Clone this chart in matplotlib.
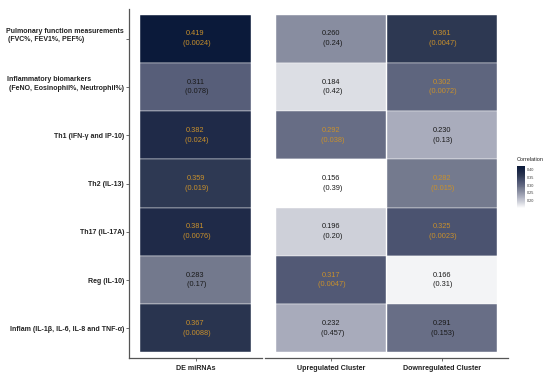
import numpy as np
import matplotlib
matplotlib.use('Agg')
import matplotlib.pyplot as plt
from matplotlib.colors import LinearSegmentedColormap, Normalize
from matplotlib.transforms import ScaledTranslation

plt.rcParams['font.family'] = ['Liberation Sans', 'DejaVu Sans']

rows = ['Pulmonary function measurements\n (FVC%, FEV1%, PEF%)',
        'Inflammatory biomarkers\n (FeNO, Eosinophil%, Neutrophil%)',
        'Th1 (IFN-γ and IP-10)',
        'Th2 (IL-13)',
        'Th17 (IL-17A)',
        'Reg (IL-10)',
        'Inflam (IL-1β, IL-6, IL-8 and TNF-α)']

de_r = [0.419, 0.311, 0.382, 0.359, 0.381, 0.283, 0.367]
de_p = ['0.0024', '0.078', '0.024', '0.019', '0.0076', '0.17', '0.0088']
de_sig = [1, 0, 1, 1, 1, 0, 1]

up_r = [0.260, 0.184, 0.292, 0.156, 0.196, 0.317, 0.232]
up_p = ['0.24', '0.42', '0.038', '0.39', '0.20', '0.0047', '0.457']
up_sig = [0, 0, 1, 0, 0, 1, 0]

down_r = [0.361, 0.302, 0.230, 0.282, 0.325, 0.166, 0.291]
down_p = ['0.0047', '0.0072', '0.13', '0.015', '0.0023', '0.31', '0.153']
down_sig = [1, 1, 0, 1, 1, 0, 0]

left_cols = ['DE miRNAs']
right_cols = ['Upregulated Cluster', 'Downregulated Cluster']

allv = de_r + up_r + down_r
vmin, vmax = min(allv), max(allv)
norm = Normalize(vmin, vmax)

# slate-blue gradient, anchors picked by eye from the reference
stops = [(0.156, '#ffffff'), (0.196, '#cdcfd8'), (0.230, '#a9acbc'), (0.260, '#888da0'),
         (0.282, '#747a8e'), (0.292, '#676d85'), (0.325, '#4b5370'), (0.359, '#2e3953'),
         (0.382, '#1f2a48'), (0.419, '#0b1a3a')]
cmap = LinearSegmentedColormap.from_list(
    'corr', [((v - vmin) / (vmax - vmin), c) for v, c in stops])

sig_col = '#c8902c'
txt_col = '#1a1a1a'

fig = plt.figure(figsize=(5.5, 3.76), dpi=100)
W, H = 550, 376
ax1 = fig.add_axes([129 / W, 1 - 358 / H, 133 / W, 349 / H])
ax2 = fig.add_axes([265 / W, 1 - 358 / H, 243 / W, 349 / H])


def draw(ax, cols, rs, ps, sigs):
    n = len(rows)
    for j in range(len(cols)):
        for i in range(n):
            y = n - 1 - i
            ax.add_patch(plt.Rectangle((j - 0.5, y - 0.5), 1, 1, facecolor=cmap(norm(rs[j][i])),
                                       edgecolor='white', linewidth=0.3))
            ax.text(j, y, f'{rs[j][i]:.3f}\n ({ps[j][i]})', ha='center', va='center',
                    fontsize=5.3, linespacing=1.55, color=sig_col if sigs[j][i] else txt_col)
    ax.set_xlim(-0.6, len(cols) - 0.4)
    ax.set_ylim(-0.615, n - 0.385)
    ax.set_xticks(range(len(cols)))
    ax.set_xticklabels(cols, fontsize=5.1, fontweight='bold', color='#222222')
    ax.tick_params(axis='x', length=2, width=0.6, color='#555555', pad=3)
    for s in ['top', 'right']:
        ax.spines[s].set_visible(False)
    ax.spines['bottom'].set_color('#555555')
    ax.spines['bottom'].set_linewidth(0.9)


draw(ax1, left_cols, [de_r], [de_p], [de_sig])
draw(ax2, right_cols, [up_r, down_r], [up_p, down_p], [up_sig, down_sig])

ax1.spines['left'].set_color('#555555')
ax1.spines['left'].set_linewidth(0.9)
ax1.set_yticks(range(len(rows))[::-1])
ax1.set_yticklabels(rows, fontsize=5.0, fontweight='bold', color='#222222',
                    multialignment='left', linespacing=1.25)
ax1.tick_params(axis='y', length=2, width=0.6, color='#555555', pad=1.5)
for lab in ax1.get_yticklabels():
    if '\n' in lab.get_text():
        lab.set_transform(lab.get_transform() + ScaledTranslation(0, 4.5 / 100, fig.dpi_scale_trans))

ax2.spines['left'].set_visible(False)
ax2.set_yticks([])

cax = fig.add_axes([517 / W, 1 - 208 / H, 8 / W, 42 / H])
cb = fig.colorbar(matplotlib.cm.ScalarMappable(norm=norm, cmap=cmap), cax=cax)
cb.outline.set_visible(False)
cb.set_ticks([0.20, 0.25, 0.30, 0.35, 0.40])
cb.ax.tick_params(labelsize=2.7, length=0, pad=1.5, labelcolor='#333333')
fig.text(517 / W, 1 - 160 / H, 'Correlation', fontsize=4, va='center', ha='left', color='#222222')

fig.savefig('out.png', dpi=100)
